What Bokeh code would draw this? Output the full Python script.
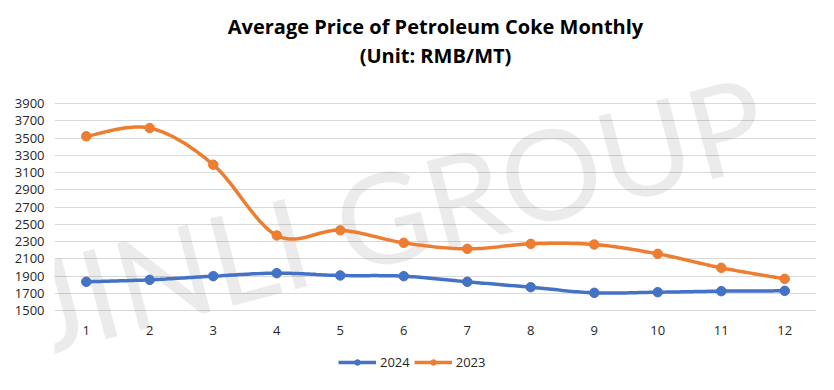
import numpy as np
from bokeh.plotting import figure
from bokeh.models import (Range1d, FixedTicker, Title, Legend, LegendItem, Label, ColumnDataSource)
from bokeh.core.properties import value
from bokeh.embed import file_html
from bokeh.resources import INLINE

months = [1, 2, 3, 4, 5, 6, 7, 8, 9, 10, 11, 12]
month_labels = ["1", "2", "3", "4", "5", "6", "7", "8", "9", "10", "11", "12"]
price_2024 = [1833, 1856, 1898, 1933, 1906, 1898, 1833, 1770, 1705, 1712, 1724, 1728]
price_2023 = [3520, 3615, 3190, 2370, 2430, 2285, 2215, 2273, 2265, 2157, 1995, 1867]
y_ticks = [1500, 1700, 1900, 2100, 2300, 2500, 2700, 2900, 3100, 3300, 3500, 3700, 3900]

BLUE = "#4472C4"
ORANGE = "#ED7D31"
FONT = "Open Sans"
TICK_COLOR = "#262626"

# layout (pixels): value axis 1500..3900 spans 207px; frame extended so the watermark is not clipped
PX_PER_UNIT = 207 / 2400
FRAME_H = 322
Y0 = 1500 - 80 / PX_PER_UNIT      # frame bottom lies 80px below the 1500 gridline
Y1 = 3900 + 35 / PX_PER_UNIT      # frame top lies 35px above the 3900 gridline
LABEL_Y = 1500 - 20 / PX_PER_UNIT  # category labels 20px below the 1500 gridline


def smooth(xs, ys, steps=24):
    """Bezier smoothing through the points (like Excel's smoothed line)."""
    P = np.column_stack([np.asarray(xs, float), np.asarray(ys, float)])
    n = len(P)
    out = []
    for i in range(n - 1):
        p0 = P[i - 1] if i > 0 else P[i]
        p1 = P[i]
        p2 = P[i + 1]
        p3 = P[i + 2] if i + 2 < n else P[i + 1]
        b1 = p1 + (p2 - p0) / 6.0
        b2 = p2 - (p3 - p1) / 6.0
        t = np.linspace(0, 1, steps, endpoint=(i == n - 2))[:, None]
        seg = ((1 - t) ** 3) * p1 + 3 * ((1 - t) ** 2) * t * b1 + 3 * (1 - t) * t ** 2 * b2 + t ** 3 * p2
        out.append(seg)
    s = np.vstack(out)
    return s[:, 0], s[:, 1]


p = figure(frame_width=762, frame_height=FRAME_H, output_backend="svg", toolbar_location=None,
           x_range=Range1d(0.5, 12.5), y_range=Range1d(Y0, Y1), x_axis_location=None,
           min_border_left=54, min_border_right=10, min_border_top=68, min_border_bottom=0)
p.outline_line_color = None
p.background_fill_color = "white"
p.border_fill_color = "white"

# titles (line 2 first so it sits next to the plot)
t2 = Title(text="(Unit: RMB/MT)", align="center", text_font=FONT, text_font_size="20px",
           text_font_style="bold", text_color="#000000", standoff=0)
t1 = Title(text="Average Price of Petroleum Coke Monthly", align="center", text_font=FONT,
           text_font_size="20px", text_font_style="bold", text_color="#000000", standoff=0)
p.add_layout(t2, "above")
p.add_layout(t1, "above")

# grid / value axis
p.xgrid.grid_line_color = None
p.ygrid.grid_line_color = "#D9D9D9"
p.ygrid.grid_line_width = 1
p.yaxis.ticker = FixedTicker(ticks=y_ticks)
p.yaxis.axis_line_color = None
p.yaxis.major_tick_line_color = None
p.yaxis.minor_tick_line_color = None
p.yaxis.major_label_text_font = FONT
p.yaxis.major_label_text_font_size = "13px"
p.yaxis.major_label_text_color = TICK_COLOR
p.yaxis.major_label_standoff = 4

# watermark
wm = Label(x=5.884, y=2636, text="JINLI GROUP", angle=0.258, text_align="center",
           text_baseline="alphabetic", text_font="Lato", text_font_size="126px",
           text_color="#000000", text_alpha=0.08, level="underlay")
p.add_layout(wm)

# category labels
lab_src = ColumnDataSource(dict(x=months, y=[LABEL_Y] * len(months), t=month_labels))
p.text(x="x", y="y", text="t", source=lab_src, text_font=value(FONT), text_font_size="13px",
       text_color=TICK_COLOR, text_align="center", text_baseline="middle")

sx, sy = smooth(months, price_2024)
l24 = p.line(sx, sy, line_color=BLUE, line_width=3.5)
c24 = p.scatter(months, price_2024, size=9.5, marker="circle", fill_color=BLUE, line_color=BLUE)
sx, sy = smooth(months, price_2023)
l23 = p.line(sx, sy, line_color=ORANGE, line_width=3.5)
c23 = p.scatter(months, price_2023, size=9.5, marker="circle", fill_color=ORANGE, line_color=ORANGE)

legend = Legend(items=[LegendItem(label="2024", renderers=[l24, c24]),
                       LegendItem(label="2023", renderers=[l23, c23])],
                orientation="horizontal", location=(284, 19),
                label_text_font=FONT, label_text_font_size="13px", label_text_color=TICK_COLOR,
                glyph_width=38, glyph_height=14, spacing=4, label_standoff=4,
                border_line_color=None, background_fill_alpha=0, padding=4, margin=0)
p.add_layout(legend)

open("out.html", "w").write(file_html(p, INLINE))
